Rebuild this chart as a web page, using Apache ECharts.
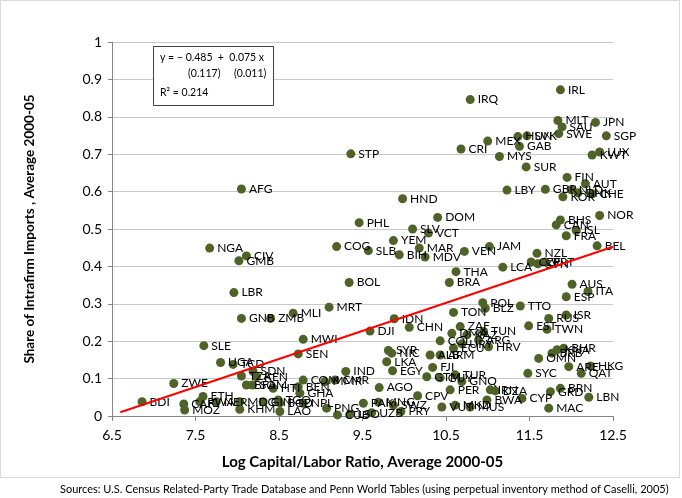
<!DOCTYPE html>
<html>
<head>
<meta charset="utf-8">
<script src="https://cdn.jsdelivr.net/npm/echarts@6/dist/echarts.min.js"></script>
<style>
html,body{margin:0;padding:0;background:#fff;}
#chart{width:682px;height:498px;}
</style>
</head>
<body>
<div id="chart"></div>
<script>
var countries = ["IRL","IRQ","MLT","SAU","JPN","SWE","SGP","HUN","SVK","MEX","GAB","CRI","STP","MYS","KWT","LUX","SUR","FIN","AUT","LBY","GBR","NLD","DNK","KOR","CHE","AFG","HND","NOR","PHL","DOM","BHS","CAN","ISL","FRA","BEL","NZL","CZE","SVN","PRT","LCA","AUS","ITA","ESP","TTO","ISR","RUS","EST","TWN","SLV","VCT","YEM","COG","SLB","MAR","BIH","MDV","VEN","JAM","THA","BRA","BOL","POL","BLZ","TON","IDN","CHN","DJI","MLI","MRT","ZMB","GNB","LBR","NGA","CIV","GMB","MWI","SEN","SLE","UGA","TCD","SDN","KEN","TZA","ZWE","BFA","SOM","HTI","COM","BEN","GHA","MMR","CMR","IND","PNG","CUB","LSO","PAK","MNG","SWZ","UZB","PRY","AGO","CPV","ZAF","TUN","DMA","KAZ","COL","ARG","URY","ECU","HRV","ALB","ARM","SYR","NIC","LKA","EGY","FJI","GTM","GUY","TUR","GNQ","PER","IRN","DZA","BWA","CYP","VUT","MKD","MUS","SYC","OMN","BRB","KNA","BHR","ARE","HKG","QAT","BRN","GRD","LBN","MAC","BDI","ETH","CAF","RWA","NER","MOZ","MDG","KHM","GIN","TGO","BGD","NPL","LAO"];
var logCapitalLabor = [11.87,10.79,11.84,11.89,12.29,11.85,12.42,11.36,11.47,11.00,11.38,10.68,9.36,11.14,12.25,12.34,11.46,11.95,12.17,11.23,11.69,12.00,12.08,11.90,12.25,8.05,9.98,12.34,9.46,10.40,11.87,11.82,12.06,11.94,12.31,11.59,11.52,11.60,11.69,11.18,12.01,12.20,11.94,11.39,11.94,11.73,11.49,11.71,10.10,10.29,9.87,9.19,9.57,10.18,9.94,10.25,10.72,11.02,10.62,10.54,9.34,10.94,10.97,10.59,9.88,10.06,9.59,8.67,9.10,8.40,8.05,7.96,7.67,8.11,8.02,8.79,8.73,7.60,7.80,7.95,8.19,8.23,8.05,7.24,8.11,8.18,8.43,8.79,8.73,8.75,9.05,9.17,9.30,9.07,9.20,9.35,9.51,9.69,9.87,9.61,9.96,9.70,10.16,10.67,10.95,10.57,10.75,10.43,10.89,10.69,10.59,11.01,10.31,10.43,9.81,9.85,9.79,9.86,10.34,10.27,10.43,10.61,10.69,10.55,11.03,11.09,10.99,11.41,10.45,10.61,10.79,11.48,11.61,11.77,11.83,11.91,11.97,12.23,12.12,11.87,11.75,12.21,11.73,6.86,7.59,7.36,7.55,7.75,7.37,8.03,8.03,8.31,8.49,8.51,8.79,8.51];
var intrafirmShare = [0.872,0.846,0.790,0.773,0.785,0.755,0.749,0.747,0.749,0.735,0.721,0.714,0.701,0.694,0.698,0.706,0.666,0.638,0.621,0.604,0.606,0.605,0.597,0.586,0.594,0.607,0.581,0.536,0.517,0.531,0.524,0.511,0.496,0.482,0.455,0.435,0.412,0.407,0.412,0.398,0.352,0.333,0.319,0.294,0.270,0.261,0.241,0.232,0.500,0.489,0.469,0.453,0.442,0.449,0.431,0.425,0.440,0.453,0.386,0.357,0.357,0.303,0.288,0.277,0.260,0.237,0.227,0.275,0.291,0.261,0.261,0.330,0.449,0.428,0.415,0.205,0.166,0.188,0.143,0.138,0.119,0.105,0.107,0.087,0.083,0.083,0.074,0.096,0.078,0.061,0.092,0.096,0.119,0.021,0.003,0.005,0.034,0.037,0.029,0.009,0.012,0.076,0.054,0.239,0.226,0.221,0.217,0.201,0.203,0.193,0.181,0.185,0.163,0.163,0.175,0.168,0.145,0.121,0.130,0.105,0.102,0.110,0.092,0.070,0.070,0.067,0.043,0.047,0.024,0.029,0.024,0.114,0.154,0.168,0.177,0.181,0.132,0.134,0.114,0.074,0.065,0.050,0.021,0.038,0.052,0.032,0.038,0.038,0.016,0.038,0.018,0.038,0.043,0.035,0.034,0.012];
var xTicks = ["6.5","7.5","8.5","9.5","10.5","11.5","12.5"];
var yTicks = ["0","0.1","0.2","0.3","0.4","0.5","0.6","0.7","0.8","0.9","1"];
var trendIntercept = -0.485;
var trendSlope = 0.075;
var trendRange = [6.6, 12.5];
var eqLines = ["y = \u2212 0.485  +  0.075 x", "(0.117)     (0.011)", "R\u00b2 = 0.214"];

var FONT = "Lato, 'Open Sans', sans-serif";
var points = countries.map(function(c, i){ return [logCapitalLabor[i], intrafirmShare[i], c]; });
var trend = trendRange.map(function(x){ return [x, trendIntercept + trendSlope * x]; });

var chart = echarts.init(document.getElementById('chart'));
chart.setOption({
  animation: false,
  backgroundColor: '#ffffff',
  textStyle: { fontFamily: FONT },
  grid: { left: 112, right: 69, top: 42, bottom: 82 },
  xAxis: {
    type: 'value', min: 6.5, max: 12.5, interval: 1,
    name: 'Log Capital/Labor Ratio, Average 2000-05',
    nameLocation: 'middle', nameGap: 39,
    nameTextStyle: { fontFamily: FONT, fontWeight: 'bold', fontSize: 15, color: '#000' },
    axisLine: { onZero: false, lineStyle: { color: '#868686', width: 1 } },
    axisTick: { show: true, length: 5, lineStyle: { color: '#868686' } },
    splitLine: { show: false },
    axisLabel: { fontFamily: FONT, fontSize: 14, color: '#000', margin: 12,
      formatter: function(v){ var i = Math.round(v - 6.5); return xTicks[i] !== undefined ? xTicks[i] : ''; } }
  },
  yAxis: {
    type: 'value', min: 0, max: 1, interval: 0.1,
    name: 'Share of Intrafirm Imports , Average 2000-05',
    nameLocation: 'middle', nameGap: 75, nameRotate: 90,
    nameTextStyle: { fontFamily: FONT, fontWeight: 'bold', fontSize: 13.5, color: '#000' },
    axisLine: { show: true, lineStyle: { color: '#868686', width: 1 } },
    axisTick: { show: true, length: 4, lineStyle: { color: '#868686' } },
    splitLine: { show: true, lineStyle: { color: '#c8c8c8', width: 1 } },
    axisLabel: { fontFamily: FONT, fontSize: 14, color: '#000', margin: 10,
      formatter: function(v){ var i = Math.round(v * 10); return yTicks[i] !== undefined ? yTicks[i] : ''; } }
  },
  series: [
    {
      type: 'scatter', data: points, symbol: 'circle', symbolSize: 9,
      itemStyle: { color: '#4F6228', opacity: 1 },
      label: { show: true, position: 'right', distance: 3, fontFamily: FONT, fontSize: 12, color: '#000',
        formatter: function(p){ return p.value[2]; } },
      z: 3
    },
    {
      type: 'line', data: trend, showSymbol: false, symbol: 'none',
      lineStyle: { color: '#ff0000', width: 2 }, z: 4, silent: true
    }
  ],
  graphic: [
    { type: 'rect', shape: { x: 0.5, y: 0.5, width: 679, height: 477 }, style: { fill: 'none', stroke: '#d9d9d9', lineWidth: 1 }, z: -1 },
    { type: 'rect', shape: { x: 153.5, y: 46.5, width: 120, height: 59 }, style: { fill: '#ffffff', stroke: '#404040', lineWidth: 1 }, z: 10 },
    { type: 'text', left: 160, top: 52, style: { text: eqLines[0], fontFamily: FONT, fontSize: 10.5, fill: '#000' }, z: 11 },
    { type: 'text', left: 188, top: 68, style: { text: eqLines[1], fontFamily: FONT, fontSize: 10.5, fill: '#000' }, z: 11 },
    { type: 'text', left: 160, top: 87, style: { text: eqLines[2], fontFamily: FONT, fontSize: 10.5, fill: '#000' }, z: 11 },
    { type: 'text', left: 60, top: 484, style: { text: 'Sources: U.S. Census Related-Party Trade Database and Penn World Tables (using perpetual inventory method of Caselli, 2005)', fontFamily: FONT, fontSize: 11, fill: '#000' } }
  ]
});
</script>
</body>
</html>
